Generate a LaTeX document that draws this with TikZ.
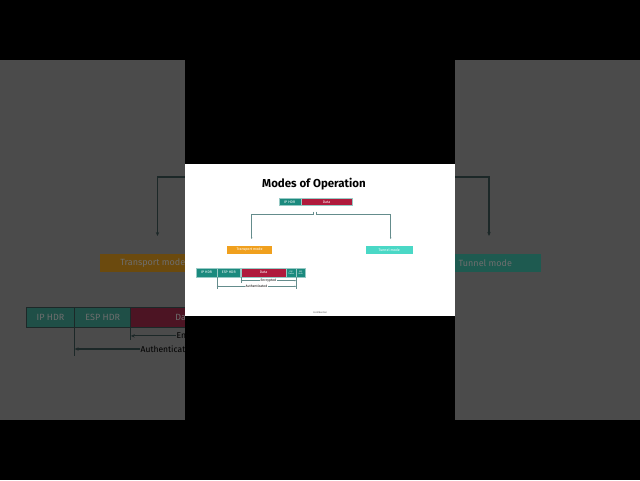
\documentclass[tikz,border=0pt]{standalone}
\usepackage{fontspec}
\setmainfont{Fira Sans}
\usetikzlibrary{arrows.meta, positioning}

\definecolor{hdrteal}{HTML}{1B8A7E}
\definecolor{datared}{HTML}{AF1A3C}
\definecolor{modeorange}{HTML}{F0A01E}
\definecolor{modeturq}{HTML}{4AD8C6}
\definecolor{linkgrey}{HTML}{648C8C}
\definecolor{bggrey}{HTML}{4B4B4B}
\definecolor{dimteal}{HTML}{1F4F47}
\definecolor{dimred}{HTML}{4C1423}
\definecolor{dimorange}{HTML}{6B4A0E}
\definecolor{dimturq}{HTML}{1E5A50}
\definecolor{dimtext}{HTML}{6E6E6E}
\definecolor{dimline}{HTML}{1C2828}

\begin{document}
\begin{tikzpicture}[x=1pt, y=-1pt,
  box/.style = {rectangle, inner sep=0pt, minimum height=7pt, font=\fontsize{3.6}{3.6}\selectfont, text=white},
  hdr/.style = {box, fill=hdrteal, draw=white!55!hdrteal, line width=0.3pt},
  dat/.style = {hdr, fill=datared},
  link/.style = {draw=linkgrey, line width=0.45pt},
  tip/.style = {-{Stealth[length=1.6pt, width=1.4pt]}},
  both/.style = {{Stealth[length=1.4pt, width=1.2pt]}-{Stealth[length=1.4pt, width=1.2pt]}},
  label/.style = {fill=white, inner sep=0.4pt, font=\fontsize{3.4}{3.4}\selectfont},
  dimword/.style = {inner sep=0pt, text=dimtext, font=\fontsize{9}{9}\selectfont},
  dimlink/.style = {draw=dimline, line width=1.1pt},
  dimtip/.style = {-{Stealth[length=4pt, width=3.4pt]}},
  dimlabel/.style = {inner sep=1pt, font=\fontsize{8.5}{8.5}\selectfont}
]
\useasboundingbox (0,0) rectangle (640,480);
\fill[black] (0,0) rectangle (640,480);
\fill[bggrey] (0,60) rectangle (640,420);

% enlarged, dimmed copy of the slide behind it
\fill[dimorange] (100.2,254) rectangle (205.8,271.6);
\fill[dimturq] (429.4,254) rectangle (541.2,271.6);
\filldraw[fill=dimteal, draw=dimline, line width=0.8pt] (26.4,307) rectangle (74.6,327.8);
\filldraw[fill=dimteal, draw=dimline, line width=0.8pt] (74.6,307) rectangle (130.8,327.8);
\filldraw[fill=dimred, draw=dimline, line width=0.8pt] (130.8,307) rectangle (238.8,327.8);
\node[dimword] (bg transport) at (152.8,262.8) {Transport mode};
\node[dimword] (bg tunnel) at (485.3,262.8) {Tunnel mode};
\node[dimword] (bg ip) at (50.5,317.4) {IP HDR};
\node[dimword] (bg esp) at (102.7,317.4) {ESP HDR};
\node[dimword] (bg data) at (184.8,317.4) {Data};
\coordinate (bg tick l) at (300,177);
\coordinate (bg tick r) at (340,177);
\coordinate (bg transport in) at (157.5,236);
\coordinate (bg tunnel in) at (489,236);
\draw[dimlink, dimtip] (bg tick l) -| (bg transport in);
\draw[dimlink, dimtip] (bg tick r) -| (bg tunnel in);
\coordinate (bg enc start) at (130.8,327.8);
\coordinate (bg auth start) at (74.6,327.8);
\coordinate (bg enc end) at (261,335.9);
\coordinate (bg auth end) at (261,349);
\draw[dimlink] (bg enc start) -- ++(0,12.5);
\draw[dimlink] (bg auth start) -- ++(0,28);
\draw[dimlink, dimtip] (bg enc end) -- (bg enc start |- bg enc end)
  node[dimlabel, fill=bggrey, pos=0.5] (bg encrypted) {Encrypted};
\draw[dimlink, dimtip] (bg auth end) -- (bg auth start |- bg auth end)
  node[dimlabel, fill=bggrey, pos=0.5] (bg authenticated) {Authenticated};

\fill[black] (185,60) rectangle (455,420);
\fill[white] (185,164) rectangle (455,316);

% the slide itself
\node[font=\bfseries\fontsize{11.5}{11.5}\selectfont] (title) at (314,184) {Modes of Operation};
\node[hdr, minimum width=22pt] (ip) at (289.7,201.8) {IP HDR};
\node[dat, minimum width=51pt, right=0pt of ip] (data) {Data};
\coordinate (tick l) at (313.3,211.7);
\coordinate (tick r) at (316.7,211.7);
\node[box, fill=modeorange, minimum width=44.4pt, minimum height=7.4pt] (transport) at (249.5,250) {Transport mode};
\node[box, fill=modeturq, minimum width=47pt, minimum height=7.4pt] (tunnel) at (389.2,250) {Tunnel mode};
\coordinate (transport in) at (251.7,239);
\coordinate (tunnel in) at (390.7,239);
\draw[link, tip] (tick l) -- ++(0,2.3) -| (transport in);
\draw[link, tip] (tick r) -- ++(0,2.3) -| (tunnel in);

% ESP packet in transport mode
\node[hdr, minimum width=20.4pt, minimum height=8.7pt] (ip2) at (206.5,272.7) {IP HDR};
\node[hdr, minimum width=23.6pt, minimum height=8.7pt, right=0pt of ip2] (esp) {ESP HDR};
\node[dat, minimum width=45.4pt, minimum height=8.7pt, right=0pt of esp] (data2) {Data};
\node[hdr, minimum width=9.3pt, minimum height=8.7pt, right=0pt of data2, font=\fontsize{2}{2.2}\selectfont, align=center] (trailer) {ESP\\Trailer};
\node[hdr, minimum width=9pt, minimum height=8.7pt, right=0pt of trailer, font=\fontsize{2}{2.2}\selectfont, align=center] (espauth) {ESP\\Auth};
\coordinate (enc y) at (0,280.7);
\coordinate (auth y) at (0,286.3);
\coordinate (foot y) at (0,289);
\draw[link] (esp.south east) -- (esp.south east |- 0,282.5);
\draw[link] (esp.south west) -- (esp.south west |- foot y);
\draw[link] (trailer.south east) -- (trailer.south east |- foot y);
\draw[link, both] (esp.south east |- enc y) -- (trailer.south east |- enc y)
  node[label, midway] (encrypted) {Encrypted};
\draw[link, both] (esp.south west |- auth y) -- (trailer.south east |- auth y)
  node[label, midway] (authenticated) {Authenticated};
\node[font=\fontsize{2.4}{2.4}\selectfont, text=black!70] (confidential) at (320,312.7) {Confidential};

\end{tikzpicture}
\end{document}
